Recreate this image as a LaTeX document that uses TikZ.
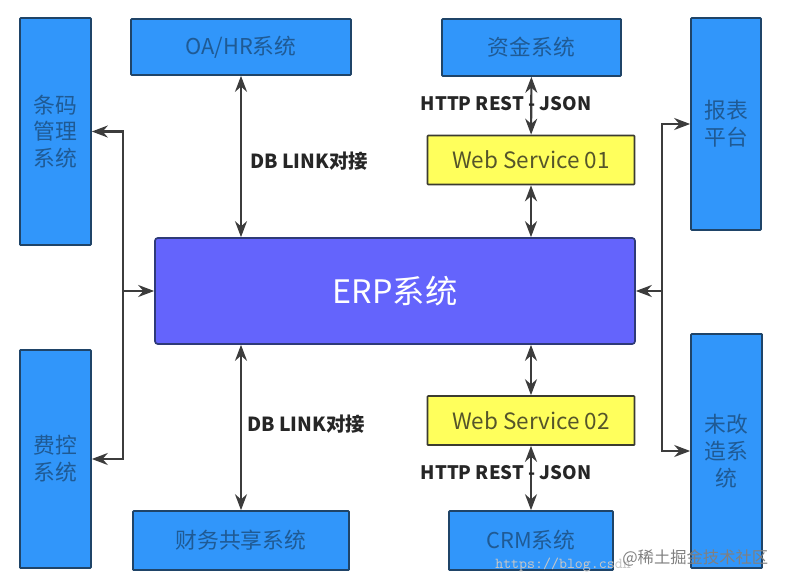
\documentclass[tikz,border=0pt]{standalone}
\usepackage{fontspec}
\setmainfont{Noto Sans CJK SC}
\usepackage{xcolor}
\usetikzlibrary{arrows.meta, positioning, calc}
\definecolor{sysblue}{HTML}{3196FA}
\definecolor{sysline}{HTML}{1F4468}
\definecolor{systext}{HTML}{1F5A94}
\definecolor{erpfill}{HTML}{6464FC}
\definecolor{erpline}{HTML}{2E3A78}
\definecolor{wsfill}{HTML}{FFFF5C}
\definecolor{wsline}{HTML}{3C3C30}
\definecolor{wstext}{HTML}{55552A}
\definecolor{linkgray}{HTML}{3C3C3C}

\begin{document}
\begin{tikzpicture}[
    sysbox/.style={rectangle, rounded corners=0.5pt, draw=sysline, line width=1.2pt, fill=sysblue, text=systext, inner sep=0pt, font=\fontsize{15.5}{19}\selectfont, align=center, minimum width=#1},
    wsbox/.style={rectangle, rounded corners=0.5pt, draw=wsline, line width=1.2pt, fill=wsfill, text=wstext, inner sep=0pt, font=\fontsize{16}{19}\selectfont, minimum width=5.175cm, minimum height=1.225cm},
    arrow/.style={{Stealth[length=4mm,width=3mm]}-{Stealth[length=4mm,width=3mm]}, line width=1.5pt, color=linkgray},
    toarrow/.style={-{Stealth[length=4mm,width=3mm]}, line width=1.5pt, color=linkgray},
    linklabel/.style={font=\fontsize{#1}{15}\selectfont\bfseries, text=black!85}
]
\useasboundingbox (0,0) rectangle (19.675,14.625);

\node[sysbox=1.775cm, minimum height=5.675cm] (tiaoma) at (1.387,11.337) {条码\\管理\\系统};
\node[sysbox=1.775cm, minimum height=5.450cm] (feikong) at (1.387,3.150) {费控\\系统};
\node[sysbox=5.500cm, minimum height=1.400cm] (oahr) at (6.025,13.450) {OA/HR系统};
\node[sysbox=5.400cm, minimum height=1.475cm] (caiwu) at (6.025,1.112) {财务共享系统};
\node[sysbox=4.475cm, minimum height=1.425cm] (zijin) at (13.288,13.438) {资金系统};
\node[sysbox=4.100cm, minimum height=1.475cm] (crm) at (13.275,1.112) {CRM系统};
\node[sysbox=1.750cm, minimum height=5.300cm] (baobiao) at (18.150,11.525) {报表\\平台};
\node[sysbox=1.775cm, minimum height=5.850cm] (weigai) at (18.163,3.350) {未改\\造系\\统};
\node[wsbox] (ws1) at (13.275,10.625) {Web Service 01};
\node[wsbox] (ws2) at (13.275,4.112) {Web Service 02};
\node[rectangle, rounded corners=2pt, draw=erpline, line width=1.2pt, fill=erpfill, text=white, inner sep=0pt, font=\fontsize{23}{27}\selectfont, minimum width=12cm, minimum height=2.65cm] (erp) at (9.875,7.350) {ERP系统};

\coordinate (ljoin) at (3.075,7.350);
\coordinate (rjoin) at (16.550,7.350);

\draw[arrow] (oahr.south) -- (oahr.south |- erp.north);
\draw[arrow] (caiwu.north) -- (caiwu.north |- erp.south);
\draw[arrow] (zijin) -- (ws1);
\draw[arrow] (ws1.south) -- (ws1.south |- erp.north);
\draw[arrow] (ws2.north) -- (ws2.north |- erp.south);
\draw[arrow] (ws2) -- (crm);

% Left and right trunks
\draw[arrow] (tiaoma.east) -| (ljoin) |- (feikong.east);
\draw[toarrow] (ljoin) -- (erp.west);
\draw[arrow] (baobiao.west) -| (rjoin) |- (weigai.west);
\draw[toarrow] (rjoin) -- (erp.east);

\node[linklabel=13.8] (dblink1) at (7.725,10.600) {DB LINK对接};
\node[linklabel=13.8] (dblink2) at (7.650,4.025) {DB LINK对接};
\node[linklabel=13.2] (http1) at (12.650,12.025) {HTTP REST - JSON};
\node[linklabel=13.2] (http2) at (12.650,2.800) {HTTP REST - JSON};

% Watermark
\node[font=\fontsize{10.8}{13}\ttfamily, text=black!22, anchor=west, inner sep=0pt] (mark2) at (12.375,0.500) {https://blog.csdn};
\node[font=\fontsize{11.6}{13}\selectfont, text=black!50, anchor=west, inner sep=0pt] (mark1) at (15.550,0.675) {@稀土掘金技术社区};
\end{tikzpicture}
\end{document}
